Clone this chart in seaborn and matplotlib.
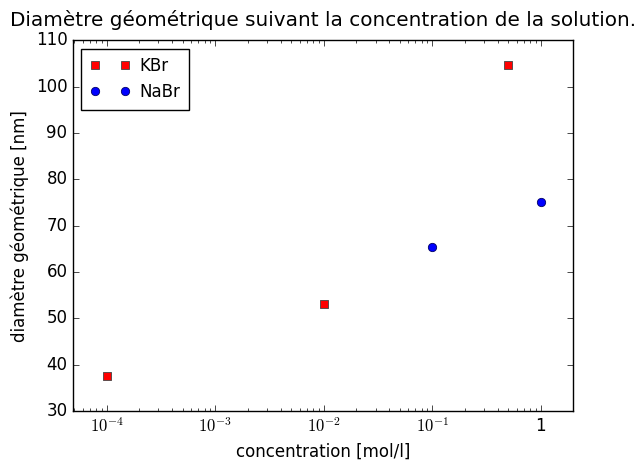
import math
import matplotlib
matplotlib.use('Agg')
import matplotlib.pyplot as plt
import matplotlib.ticker as mticker
from matplotlib.lines import Line2D
import seaborn as sns
import pandas as pd

# values
kbr_conc = [1e-4, 1e-2, 0.5]
kbr_diam = [37.5, 53.2, 104.6]
nabr_conc = [0.1, 1.0]
nabr_diam = [65.3, 75.2]


def log_fmt(x, pos):
    e = int(round(math.log10(x)))
    if e == 0:
        return '1'
    return r'$10^{%d}$' % e


def main():
    plt.style.use('classic')
    plt.rcParams['font.family'] = ['DejaVu Sans']
    plt.rcParams['mathtext.fontset'] = 'cm'

    kbr_df = pd.DataFrame({'conc': kbr_conc, 'diam': kbr_diam})
    nabr_df = pd.DataFrame({'conc': nabr_conc, 'diam': nabr_diam})

    fig = plt.figure(figsize=(6.35, 4.62), dpi=100, facecolor='white')
    ax = fig.add_axes([0.115, 0.11, 0.787, 0.803])

    sns.scatterplot(data=kbr_df, x='conc', y='diam', marker='s', color='red',
                    edgecolor='#444444', linewidth=0.6, s=36, ax=ax, zorder=3, legend=False)
    sns.scatterplot(data=nabr_df, x='conc', y='diam', marker='o', color='blue',
                    edgecolor='#000066', linewidth=0.6, s=36, ax=ax, zorder=3, legend=False)

    ax.set_xscale('log')
    ax.set_xlim(4.9e-5, 1.97)
    ax.set_ylim(30, 110)
    ax.set_yticks(range(30, 111, 10))

    ax.xaxis.set_major_locator(mticker.LogLocator(base=10))
    ax.xaxis.set_major_formatter(mticker.FuncFormatter(log_fmt))
    ax.xaxis.set_minor_formatter(mticker.NullFormatter())
    ax.tick_params(axis='both', which='both', direction='in', top=True, right=True)
    ax.tick_params(axis='both', labelsize=12)

    ax.set_xlabel('concentration [mol/l]', fontsize=12)
    ax.set_ylabel('diamètre géométrique [nm]', fontsize=12)
    ax.set_title('Diamètre géométrique suivant la concentration de la solution.',
                 fontsize=14.4, pad=10)
    ax.grid(False)

    handles = [
        Line2D([], [], linestyle='', marker='s', markersize=6, markerfacecolor='red',
               markeredgecolor='#444444', markeredgewidth=0.6, label='KBr'),
        Line2D([], [], linestyle='', marker='o', markersize=6, markerfacecolor='blue',
               markeredgecolor='#000066', markeredgewidth=0.6, label='NaBr'),
    ]
    ax.legend(handles=handles, loc='upper left', numpoints=2, fontsize=12, fancybox=False,
              frameon=True, edgecolor='black', borderpad=0.5, handlelength=2.4,
              handletextpad=0.6, labelspacing=0.5, borderaxespad=0.5)

    fig.savefig('out.png', dpi=100, facecolor='white')


if __name__ == '__main__':
    main()
